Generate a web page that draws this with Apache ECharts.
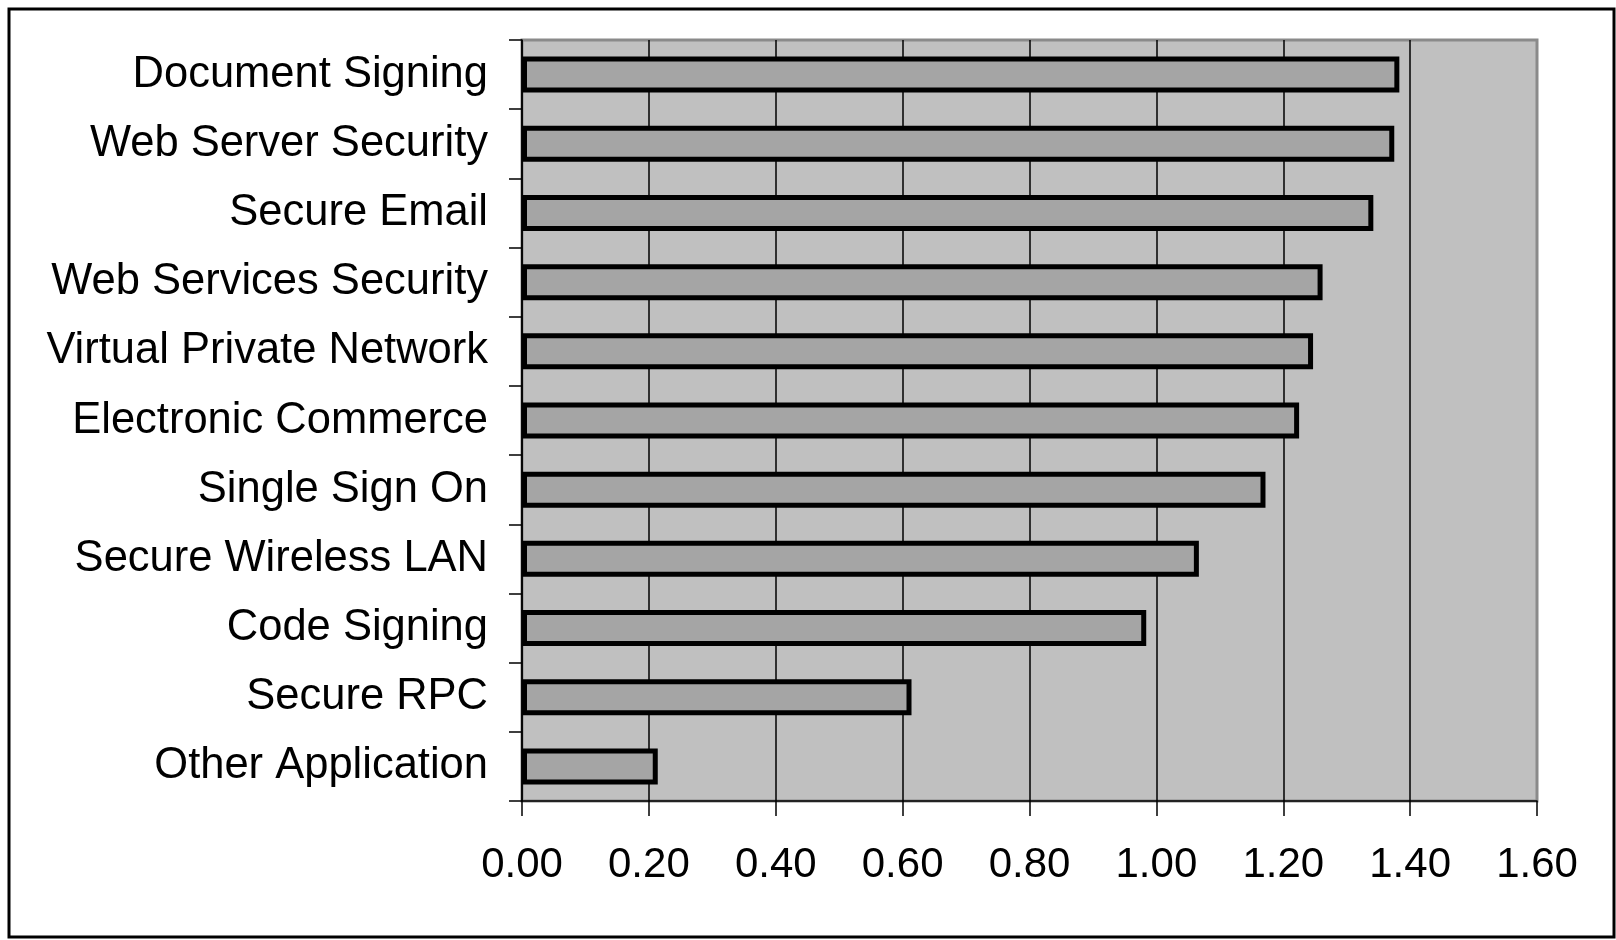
<!DOCTYPE html>
<html>
<head>
<meta charset="utf-8">
<script src="https://cdn.jsdelivr.net/npm/echarts@6/dist/echarts.min.js"></script>
<style>
html,body{margin:0;padding:0;background:#fff;}
#chart{width:1616px;height:940px;}
</style>
</head>
<body>
<div id="chart"></div>
<script>
const categories = ['Document Signing','Web Server Security','Secure Email','Web Services Security','Virtual Private Network','Electronic Commerce','Single Sign On','Secure Wireless LAN','Code Signing','Secure RPC','Other Application'];
const values = [1.383,1.375,1.342,1.262,1.247,1.225,1.172,1.067,0.984,0.614,0.214];
const xMin = 0, xMax = 1.6, xStep = 0.2;

const chart = echarts.init(document.getElementById('chart'));
chart.setOption({
  animation: false,
  backgroundColor: '#fff',
  textStyle: { fontFamily: 'Liberation Sans, Arial, sans-serif' },
  graphic: [{
    type: 'rect', z: 100, silent: true,
    shape: { x: 9, y: 9, width: 1605, height: 928 },
    style: { fill: 'none', stroke: '#000', lineWidth: 3 }
  }],
  grid: {
    left: 522, top: 40, right: 79, bottom: 139,
    show: true, backgroundColor: '#c0c0c0', borderColor: '#8a8a8a', borderWidth: 3
  },
  xAxis: {
    type: 'value', min: xMin, max: xMax, interval: xStep,
    axisLine: { show: true, lineStyle: { color: '#000', width: 1.5 } },
    axisTick: { show: true, length: 15, lineStyle: { color: '#000', width: 1.5 } },
    axisLabel: { color: '#000', fontSize: 42, margin: 43, formatter: v => v.toFixed(2) },
    splitLine: { show: true, showMaxLine: false, lineStyle: { color: '#000', width: 1.5 } }
  },
  yAxis: {
    type: 'category', data: categories, inverse: true,
    axisLine: { show: true, lineStyle: { color: '#000', width: 1.5 } },
    axisTick: { show: true, length: 13, lineStyle: { color: '#000', width: 1.5 } },
    axisLabel: { color: '#000', fontSize: 43.5, margin: 34 },
    splitLine: { show: false }
  },
  series: [{
    type: 'bar', data: values, barWidth: 36,
    itemStyle: { color: '#a5a5a5', borderColor: '#000', borderWidth: 5 }
  }]
});
</script>
</body>
</html>
